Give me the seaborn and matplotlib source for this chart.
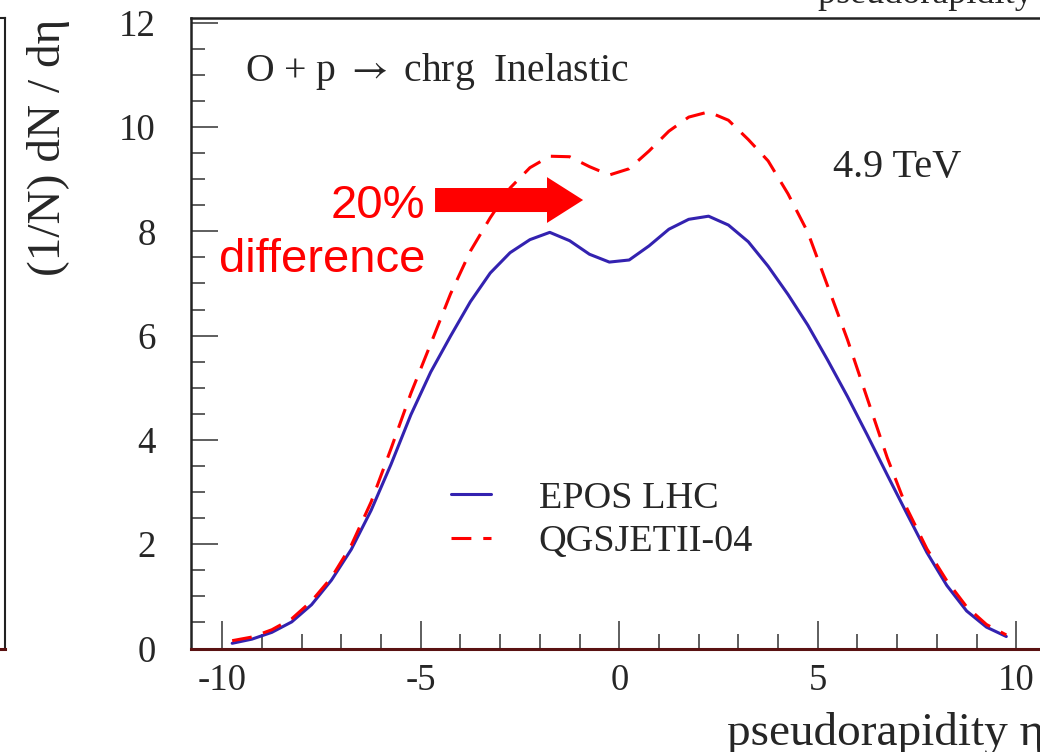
import matplotlib
matplotlib.use("Agg")
import matplotlib.pyplot as plt
import pandas as pd
import seaborn as sns
from matplotlib.ticker import MultipleLocator

# pseudorapidity bin centres
eta = [-9.75, -9.25, -8.75, -8.25, -7.75, -7.25, -6.75, -6.25, -5.75, -5.25,
       -4.75, -4.25, -3.75, -3.25, -2.75, -2.25, -1.75, -1.25, -0.75, -0.25,
       0.25, 0.75, 1.25, 1.75, 2.25, 2.75, 3.25, 3.75, 4.25, 4.75,
       5.25, 5.75, 6.25, 6.75, 7.25, 7.75, 8.25, 8.75, 9.25, 9.75]

# (1/N) dN/deta for charged particles, O + p inelastic at 4.9 TeV
epos_lhc = [0.10, 0.18, 0.31, 0.51, 0.84, 1.31, 1.90, 2.65, 3.53, 4.48,
            5.30, 5.99, 6.65, 7.20, 7.59, 7.84, 7.98, 7.82, 7.56, 7.41,
            7.45, 7.72, 8.04, 8.23, 8.29, 8.12, 7.80, 7.33, 6.79, 6.20,
            5.53, 4.83, 4.09, 3.33, 2.58, 1.84, 1.21, 0.72, 0.41, 0.23]

qgsjet = [0.15, 0.22, 0.36, 0.57, 0.91, 1.36, 1.98, 2.81, 3.83, 4.89,
          5.84, 6.80, 7.62, 8.26, 8.83, 9.22, 9.44, 9.43, 9.24, 9.08,
          9.20, 9.54, 9.92, 10.19, 10.29, 10.13, 9.76, 9.35, 8.72, 7.98,
          6.95, 5.92, 4.79, 3.66, 2.68, 1.91, 1.30, 0.80, 0.46, 0.26]

models = ["EPOS LHC", "QGSJETII-04"]
colors = {"EPOS LHC": "#3322b0", "QGSJETII-04": "#ff0000"}

x_ticks = [-10, -5, 0, 5, 10]
y_ticks = [0, 2, 4, 6, 8, 10, 12]

df = pd.concat([
    pd.DataFrame({"eta": eta, "dndeta": epos_lhc, "model": models[0]}),
    pd.DataFrame({"eta": eta, "dndeta": qgsjet, "model": models[1]}),
], ignore_index=True)

sns.set_style("ticks")
plt.rcParams["font.family"] = ["Liberation Serif", "DejaVu Serif"]
plt.rcParams["mathtext.fontset"] = "stix"

W, H = 1040, 752
fig = plt.figure(figsize=(W / 100, H / 100), dpi=100)

# frame of the neighbouring pad on the left
side = fig.add_axes([-0.3, (H - 648.5) / H, 0.3 + 5 / W, 631 / H])
side.set_xticks([])
side.set_yticks([])
for s in side.spines.values():
    s.set_color("#222222")
    s.set_linewidth(1.5)
side.spines["bottom"].set_color("#5a1212")
side.spines["bottom"].set_linewidth(2.2)

ax = fig.add_axes([190.5 / W, (H - 648.5) / H, 857.5 / W, 631 / H])

sns.lineplot(data=df, x="eta", y="dndeta", hue="model", style="model",
             hue_order=models, style_order=models, palette=colors,
             dashes={"EPOS LHC": "", "QGSJETII-04": (6.5, 3.9)},
             linewidth=2.2, legend=False, ax=ax)

ax.set_xlim(-10.8, 10.8)
ax.set_ylim(0, 12.1)
ax.xaxis.set_major_locator(MultipleLocator(5))
ax.xaxis.set_minor_locator(MultipleLocator(1))
ax.yaxis.set_major_locator(MultipleLocator(2))
ax.yaxis.set_minor_locator(MultipleLocator(0.5))
ax.set_xticks(x_ticks)
ax.set_yticks(y_ticks)
ax.set_xticklabels([str(v) for v in x_ticks])
ax.set_yticklabels([str(v) for v in y_ticks])

ax.tick_params(axis="x", which="major", direction="in", length=20, width=1.1,
               color="#333333", labelsize=26.5, pad=11)
ax.tick_params(axis="x", which="minor", direction="in", length=10.5, width=1.1,
               color="#333333")
ax.tick_params(axis="y", which="major", direction="in", length=19.5, width=1.1,
               color="#333333", labelsize=26.5, pad=25)
ax.tick_params(axis="y", which="minor", direction="in", length=10, width=1.1,
               color="#333333")

for s in ("left", "top", "right"):
    ax.spines[s].set_color("#222222")
    ax.spines[s].set_linewidth(1.8)
ax.spines["bottom"].set_color("#5a1212")
ax.spines["bottom"].set_linewidth(2.2)

ax.set_xlabel("pseudorapidity η", fontsize=34, loc="right")
ax.xaxis.label.set_va("baseline")
ax.xaxis.set_label_coords(0.996, -0.153)
ax.set_ylabel("(1/N) dN / dη", fontsize=34, loc="top")
ax.yaxis.set_label_coords(-0.140, 0.998)

ax.text(-9.43, 10.88, "O + p $\\rightarrow$ chrg  Inelastic", fontsize=28.5,
        va="baseline")
ax.text(5.38, 9.05, "4.9 TeV", fontsize=29, va="baseline")

sans = ["Liberation Sans", "DejaVu Sans"]
ax.text(-4.89, 8.26, "20%", fontsize=34, color="#ff0000", ha="right",
        va="baseline", family=sans)
ax.text(-4.89, 7.22, "difference", fontsize=34, color="#ff0000", ha="right",
        va="baseline", family=sans)
ax.annotate("", xy=(-0.91, 8.60), xytext=(-4.64, 8.60),
            arrowprops=dict(arrowstyle="simple,head_length=26,head_width=33,tail_width=17.3",
                            mutation_scale=1, color="#ff0000", lw=0,
                            shrinkA=0, shrinkB=0))

handles = ax.get_lines()[:2]
ax.legend(handles, models, loc="upper left", frameon=False, fontsize=27.5,
          handlelength=1.05, handletextpad=1.25, labelspacing=0.22,
          borderpad=0, borderaxespad=0,
          bbox_to_anchor=(451 / W, 1 - 481 / H),
          bbox_transform=fig.transFigure)

# axis title of the pad above, cut by the top edge
fig.text(818 / W, 1 - 3 / H, "pseudorapidity η", fontsize=26,
         ha="left", va="baseline")

fig.savefig("out.png", dpi=100)
